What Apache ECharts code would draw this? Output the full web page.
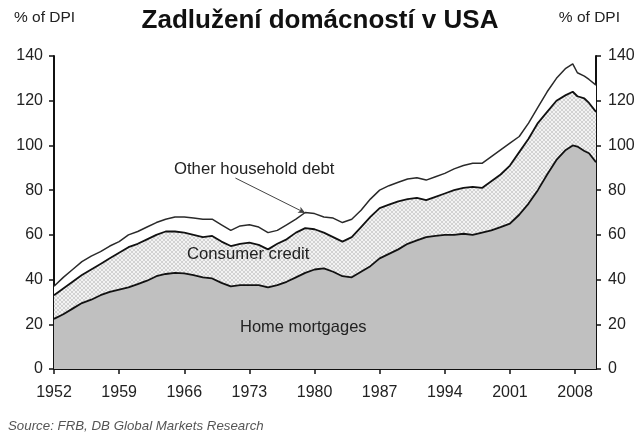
<!DOCTYPE html>
<html>
<head>
<meta charset="utf-8">
<script src="https://cdn.jsdelivr.net/npm/echarts@6/dist/echarts.min.js"></script>
<style>
html,body{margin:0;padding:0;background:#fff;}
#chart{width:640px;height:444px;}
</style>
</head>
<body>
<div id="chart"></div>
<script>
// Years (fractional near the end, where the series turn)
var years = [1952,1953,1954,1955,1956,1957,1958,1959,1960,1961,1962,1963,1964,1965,1966,1967,1968,1969,1970,1971,1972,1973,1974,1975,1976,1977,1978,1979,1980,1981,1982,1983,1984,1985,1986,1987,1988,1989,1990,1991,1992,1993,1994,1995,1996,1997,1998,1999,2000,2001,2002,2003,2004,2005,2006,2007,2007.75,2008.25,2009,2009.5,2010.25];
// Home mortgages, % of DPI
var homeMortgages = [22.4,24.5,27,29.5,31,33,34.5,35.5,36.5,38,39.5,41.5,42.5,43,42.8,42,41,40.5,38.5,37,37.5,37.5,37.5,36.5,37.5,39,41,43,44.5,45,43.5,41.5,41,43.5,46,49.5,51.5,53.5,56,57.5,59,59.5,60,60,60.5,60,61,62,63.5,65,69,74,80,87,93.5,98,100,99.5,97.5,96.5,92.5];
// Home mortgages + consumer credit
var consumerCreditTop = [33,36,39,42,44.5,47,49.5,52,54.5,56,58,60,61.5,61.5,61,60,59,59.5,57,55,56,56.5,55.5,53.5,56,58,61,63,62.5,61,59,57,59,63.5,68,72,73.5,75,76,76.5,75.5,77,78.5,80,81,81.5,81,84,87,91,97,103,110,115,120,122.5,124,122,121,119,115];
// Total household debt (incl. other household debt)
var totalDebt = [37,41,44.5,48,50.5,52.5,55,57,60,61.5,63.5,65.5,67,68,68,67.5,67,67,64.5,62,64,64.5,63.5,61,62,64.5,67,70,69.5,68,67.5,65.5,67,71,76,80,82,83.5,85,85.5,84.5,86,87.5,89.5,91,92,92,95,98,101,104,110,117,124,130,134.5,136.5,132.5,131,129.5,127];
var tickYears = [1952,1959,1966,1973,1980,1987,1994,2001,2008];
var arrowFrom = [1971.5, 85.4];
var arrowTo = [1979, 69.8];

function pairs(vals){ return years.map(function(y,i){ return [y, vals[i]]; }); }

// crosshatch pattern for consumer credit
var pc = document.createElement('canvas');
pc.width = 4; pc.height = 4;
var pctx = pc.getContext('2d');
pctx.fillStyle = '#f3f3f3'; pctx.fillRect(0,0,4,4);
pctx.fillStyle = '#d2d2d2';
for (var i = 0; i < 4; i++) { pctx.fillRect(i,i,1,1); pctx.fillRect(i,3-i,1,1); }

var FONT = 'Liberation Sans, Arial, sans-serif';
var chart = echarts.init(document.getElementById('chart'), null, {renderer:'canvas'});
var axisCommon = {
  type:'value', min:0, max:140, interval:20,
  axisLine:{show:true, lineStyle:{color:'#111', width:2}},
  axisTick:{show:true, length:5, lineStyle:{color:'#111', width:1.5}},
  axisLabel:{fontSize:16, color:'#222', fontFamily:FONT, margin:11},
  splitLine:{show:false}
};
chart.setOption({
  animation:false,
  backgroundColor:'#fff',
  title:[
    {text:'Zadlužení domácností v USA', left:'center', top:3, textStyle:{fontSize:26, fontWeight:'bold', color:'#111', fontFamily:FONT}},
    {text:'% of DPI', left:9, top:5, textStyle:{fontSize:15.5, fontWeight:'normal', color:'#222', fontFamily:FONT}},
    {text:'% of DPI', right:15, top:5, textStyle:{fontSize:15.5, fontWeight:'normal', color:'#222', fontFamily:FONT}}
  ],
  grid:{left:54, right:44, top:56, bottom:75, containLabel:false},
  xAxis:{
    type:'value', min:1952, max:2010.25,
    axisLine:{show:true, onZero:false, lineStyle:{color:'#111', width:2}},
    axisTick:{show:true, length:5, customValues:tickYears, lineStyle:{color:'#111', width:1.5}},
    axisLabel:{customValues:tickYears, formatter:function(v){ return String(v); }, fontSize:16, color:'#222', fontFamily:FONT, margin:16},
    splitLine:{show:false}
  },
  yAxis:[
    Object.assign({}, axisCommon, {position:'left'}),
    Object.assign({}, axisCommon, {position:'right', axisLabel:Object.assign({}, axisCommon.axisLabel, {margin:12})})
  ],
  series:[
    {name:'Other household debt', type:'line', data:pairs(totalDebt), symbol:'none', z:2,
     lineStyle:{color:'#2a2a2a', width:1.5}, areaStyle:{color:'#ffffff', opacity:1},
     markLine:{silent:true, symbol:['none','arrow'], symbolSize:[5,7],
       lineStyle:{color:'#444', width:1, type:'solid'}, label:{show:false},
       data:[[{coord:arrowFrom},{coord:arrowTo}]]}},
    {name:'Consumer credit', type:'line', data:pairs(consumerCreditTop), symbol:'none', z:3,
     lineStyle:{color:'#111', width:1.8}, areaStyle:{color:{image:pc, repeat:'repeat'}, opacity:1}},
    {name:'Home mortgages', type:'line', data:pairs(homeMortgages), symbol:'none', z:4,
     lineStyle:{color:'#111', width:1.8}, areaStyle:{color:'#c0c0c0', opacity:1}}
  ],
  graphic:[
    {type:'text', left:174, top:161, z:100, style:{text:'Other household debt', fontSize:16.7, fill:'#222', fontFamily:FONT}},
    {type:'text', left:187, top:246, z:100, style:{text:'Consumer credit', fontSize:16.7, fill:'#222', fontFamily:FONT}},
    {type:'text', left:240, top:319, z:100, style:{text:'Home mortgages', fontSize:16.5, fill:'#222', fontFamily:FONT}},
    {type:'text', left:8, top:420, z:100, style:{text:'Source: FRB, DB Global Markets Research', fontSize:13.3, fontStyle:'italic', fill:'#555', fontFamily:FONT}}
  ]
});
</script>
</body>
</html>
